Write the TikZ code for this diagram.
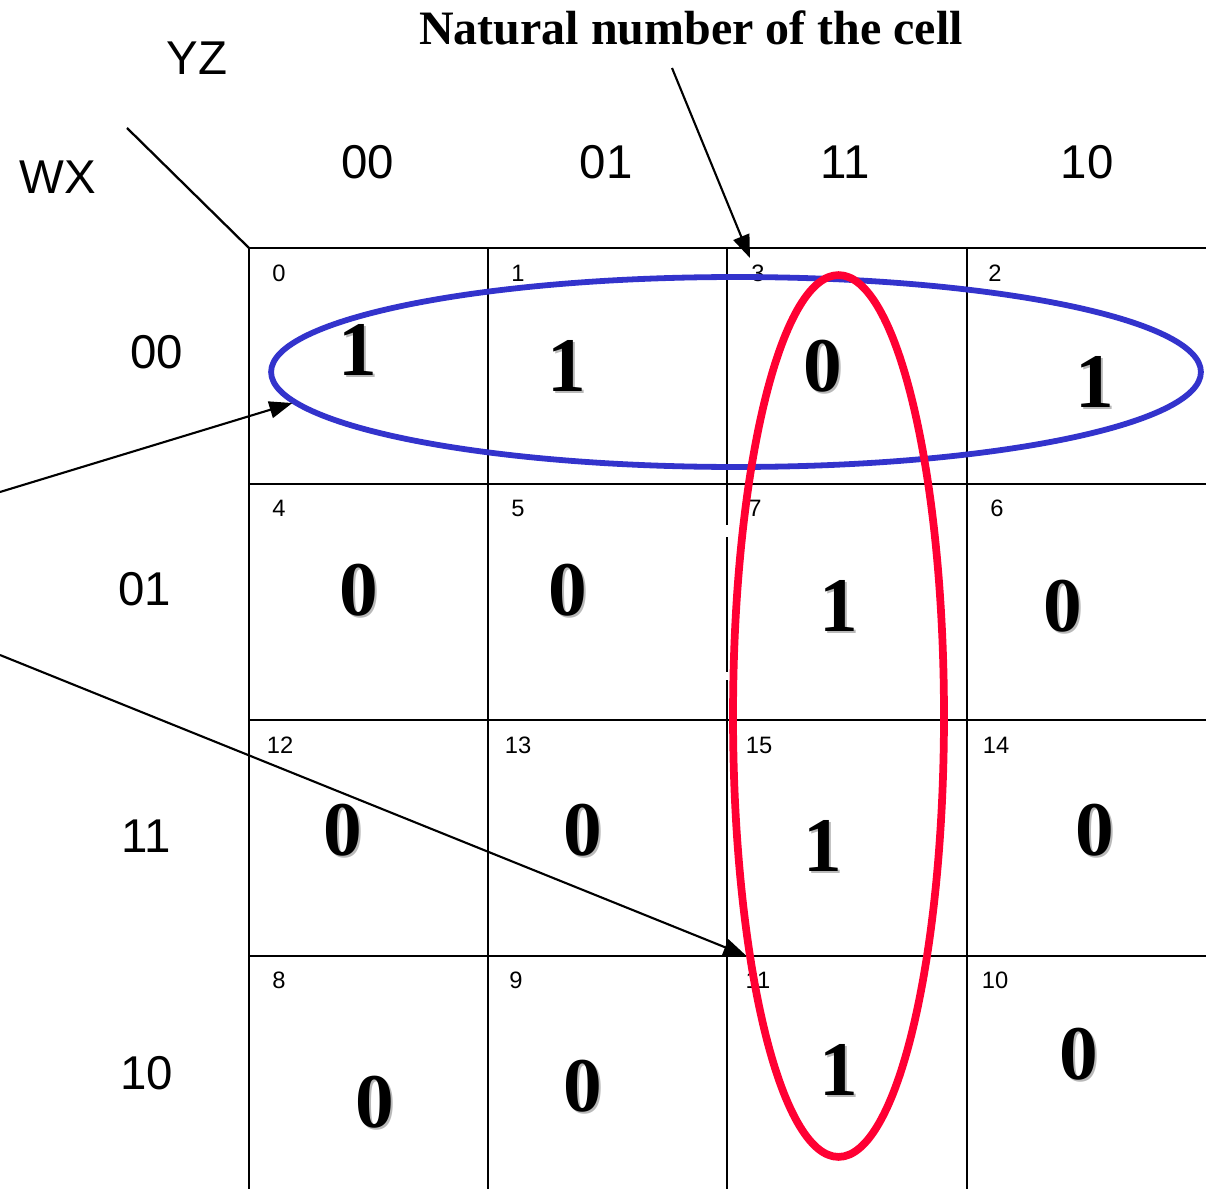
\documentclass[tikz,border=0pt]{standalone}
\usepackage{fontspec}
\setmainfont{Liberation Serif}
\setsansfont{Liberation Sans}
\usetikzlibrary{arrows.meta,shapes.geometric}
\definecolor{kmapblue}{RGB}{51,51,204}
\definecolor{kmapred}{RGB}{255,0,51}
\definecolor{kmapshade}{RGB}{185,185,185}
\newcommand{\kbit}[1]{\rlap{\hspace{0.04cm}\raisebox{-0.04cm}{\color{kmapshade}#1}}#1}

\begin{document}
\begin{tikzpicture}[x=0.02cm, y=-0.02cm,
      axis/.style={font=\sffamily\fontsize{27}{30}\selectfont, inner sep=0pt},
      cellno/.style={font=\sffamily\fontsize{13.5}{15}\selectfont, inner sep=0pt},
      bit/.style={font=\bfseries\fontsize{44}{48}\selectfont, inner sep=0pt},
      gridline/.style={line width=0.9pt},
      pointer/.style={line width=1.2pt, -{Triangle[length=4.6mm,width=3.4mm]}},
      loop/.style={ellipse, draw, inner sep=0pt}
    ]
      \useasboundingbox (0,0) rectangle (1206,1189);

      \node[font=\bfseries\fontsize{27.3}{30}\selectfont, inner sep=0pt] (title) at (691,28) {Natural number of the cell};
      \node[axis] (yz) at (197,58) {YZ};
      \node[axis] (wx) at (58,177) {WX};

      \node[axis] (col00) at (368,162) {00};
      \node[axis] (col01) at (606,162) {01};
      \node[axis] (col11) at (845,162) {11};
      \node[axis] (col10) at (1087,162) {10};

      \node[axis] (row00) at (157,352) {00};
      \node[axis] (row01) at (145,589) {01};
      \node[axis] (row11) at (146,836) {11};
      \node[axis] (row10) at (147,1073) {10};

      \coordinate (slashtop) at (127,128);
      \coordinate (corner) at (249,248);
      \draw[line width=1.3pt] (slashtop) -- (corner);

      \foreach \y in {248,484,720,956}
        \draw[gridline] (249,\y) -- (1206,\y);
      \foreach \x in {249,488,967}
        \draw[gridline] (\x,248) -- (\x,1189);
      \draw[gridline] (727,248) -- (727,525) (727,537) -- (727,672) (727,680) -- (727,1189);

      \node[cellno] (n0) at (279,273) {0};
      \node[cellno] (n1) at (518,273) {1};
      \node[cellno] (n3) at (758,273) {3};
      \node[cellno] (n2) at (995,273) {2};
      \node[cellno] (n4) at (279,508) {4};
      \node[cellno] (n5) at (518,508) {5};
      \node[cellno] (n7) at (755,508) {7};
      \node[cellno] (n6) at (997,508) {6};
      \node[cellno] (n12) at (280,745) {12};
      \node[cellno] (n13) at (518,745) {13};
      \node[cellno] (n15) at (759,745) {15};
      \node[cellno] (n14) at (996,745) {14};
      \node[cellno] (n8) at (279,980) {8};
      \node[cellno] (n9) at (516,980) {9};
      \node[cellno] (n11) at (758,980) {11};
      \node[cellno] (n10) at (995,980) {10};

      \node[bit] (v0) at (358,351) {\kbit{1}};
      \node[bit] (v1) at (567,367) {\kbit{1}};
      \node[bit] (v3) at (823,367) {\kbit{0}};
      \node[bit] (v2) at (1095,383) {\kbit{1}};
      \node[bit] (v4) at (359,591) {\kbit{0}};
      \node[bit] (v5) at (568,591) {\kbit{0}};
      \node[bit] (v7) at (839,607) {\kbit{1}};
      \node[bit] (v6) at (1063,607) {\kbit{0}};
      \node[bit] (v12) at (343,831) {\kbit{0}};
      \node[bit] (v13) at (583,831) {\kbit{0}};
      \node[bit] (v15) at (823,847) {\kbit{1}};
      \node[bit] (v14) at (1095,831) {\kbit{0}};
      \node[bit] (v8) at (375,1103) {\kbit{0}};
      \node[bit] (v9) at (583,1087) {\kbit{0}};
      \node[bit] (v11) at (839,1071) {\kbit{1}};
      \node[bit] (v10) at (1079,1055) {\kbit{0}};

      \node[loop, draw=kmapblue, line width=3.3pt, minimum width=18.6cm, minimum height=3.8cm] (rowloop) at (736,372) {};
      \node[loop, draw=kmapred, line width=4.4pt, minimum width=4.22cm, minimum height=17.64cm] (colloop) at (838.5,716) {};

      \coordinate (leftA) at (0,492);
      \coordinate (leftB) at (0,655);
      \coordinate (capfoot) at (672,68);
      \coordinate (tip3) at (750,258);
      \draw[pointer] (leftA) -- (rowloop.184);
      \draw[pointer] (leftB) -- (colloop.249);
      \draw[pointer] (capfoot) -- (tip3);
    \end{tikzpicture}
\end{document}
